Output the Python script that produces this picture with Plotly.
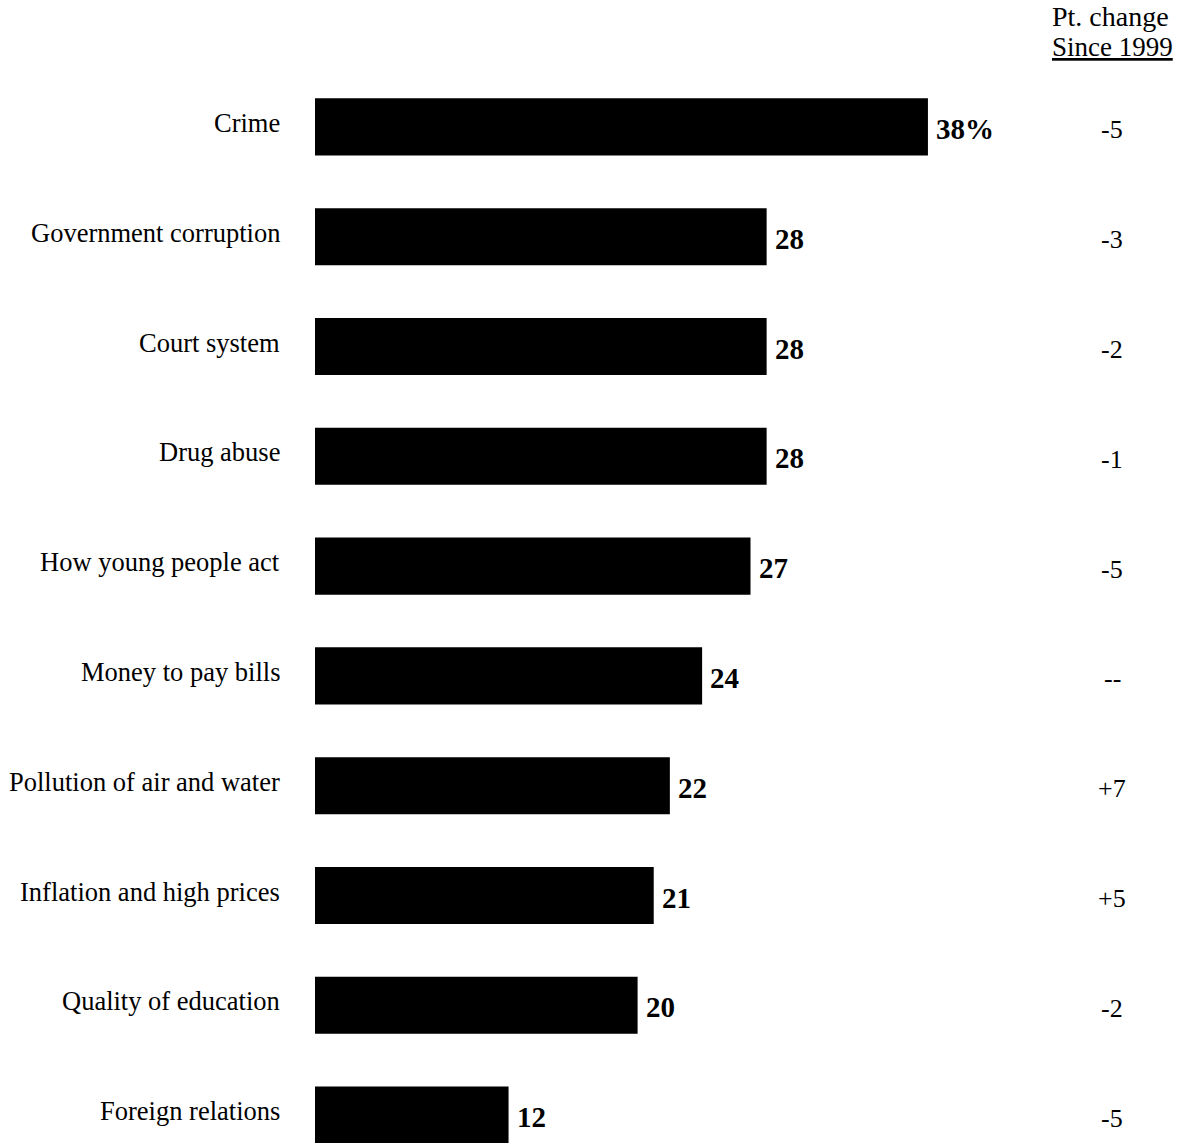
import plotly.graph_objects as go

categories = ["Crime", "Government corruption", "Court system", "Drug abuse",
              "How young people act", "Money to pay bills", "Pollution of air and water",
              "Inflation and high prices", "Quality of education", "Foreign relations"]
values = [38, 28, 28, 28, 27, 24, 22, 21, 20, 12]
value_labels = ["38%", "28", "28", "28", "27", "24", "22", "21", "20", "12"]
changes = ["-5", "-3", "-2", "-1", "-5", "--", "+7", "+5", "-2", "-5"]

FONT = "Liberation Serif, Times New Roman, serif"
W, H = 1182, 1143
ML, MT = 315, 72
plot_w = W - ML
px_per_unit = 16.13
x_max = plot_w / px_per_unit
slot = 109.8
plot_h = H - MT
y_bottom = -0.5 + plot_h / slot

fig = go.Figure()
fig.add_trace(go.Bar(
    x=values, y=categories, orientation="h",
    marker=dict(color="black", line=dict(width=0)),
    width=0.52, hoverinfo="skip",
))

for c in categories:
    fig.add_annotation(x=0, y=c, xref="paper", yref="y", text=c,
                       showarrow=False, xanchor="right", xshift=-33, yshift=4,
                       font=dict(family=FONT, size=26.5, color="black"))

for c, v, lab in zip(categories, values, value_labels):
    fig.add_annotation(x=v, y=c, xref="x", yref="y", text="<b>" + lab + "</b>",
                       showarrow=False, xanchor="left", xshift=6, yshift=-2,
                       font=dict(family=FONT, size=29, color="black"))

chg_x = (1112 - ML) / plot_w
for c, ch in zip(categories, changes):
    fig.add_annotation(x=chg_x, y=c, xref="paper", yref="y", text=ch,
                       showarrow=False, xanchor="center", yshift=-3,
                       font=dict(family=FONT, size=26, color="black"))

fig.add_annotation(x=(1110 - ML) / plot_w, y=1 + (MT - 17) / plot_h, xref="paper", yref="paper",
                   text="Pt. change", showarrow=False, xanchor="center", yanchor="middle",
                   font=dict(family=FONT, size=28, color="black"))
fig.add_annotation(x=(1112 - ML) / plot_w, y=1 + (MT - 47) / plot_h, xref="paper", yref="paper",
                   text="<u>Since 1999</u>", showarrow=False, xanchor="center", yanchor="middle",
                   font=dict(family=FONT, size=27, color="black"))

fig.update_layout(
    width=W, height=H,
    margin=dict(l=ML, r=0, t=MT, b=0, pad=0),
    plot_bgcolor="white", paper_bgcolor="white",
    showlegend=False,
    font=dict(family=FONT, size=26, color="black"),
    xaxis=dict(range=[0, x_max], visible=False, fixedrange=True),
    yaxis=dict(type="category", categoryorder="array", categoryarray=categories,
               range=[y_bottom, -0.5], showgrid=False, zeroline=False, showline=False,
               ticks="", showticklabels=False, fixedrange=True),
)

fig.write_html("out.html")
